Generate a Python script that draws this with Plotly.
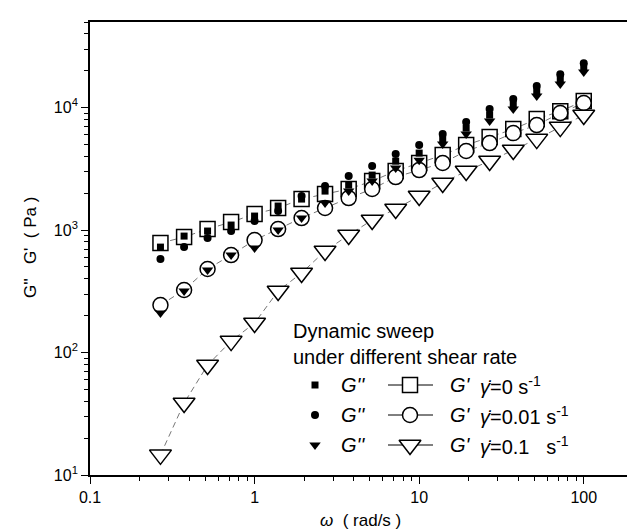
import plotly.graph_objects as go

# ---------------- data ----------------
freq = [0.268, 0.373, 0.518, 0.72, 1.0, 1.39, 1.93, 2.68, 3.73, 5.18, 7.2,
        10.0, 13.9, 19.3, 26.8, 37.3, 51.8, 72.0, 100.0]

gp_rate0 = [783, 877, 1019, 1162, 1351, 1513, 1792, 1968, 2163, 2512, 3033,
            3527, 4096, 4943, 5745, 6675, 8054, 9356, 11300]
gp_rate001 = [244, 324, 481, 625, 828, 1019, 1253, 1513, 1825, 2163, 2710,
              3090, 3527, 4420, 5130, 6190, 7200, 9020, 10900]
gp_rate01 = [14.6, 38.7, 79, 124, 174, 318, 446, 674, 910, 1208, 1484,
             1895, 2420, 3033, 3660, 4500, 5530, 6930, 8690]

gpp_rate0 = [726, 893, 982, 1099, 1301, 1571, 1791, 2081, 2330, 2812, 3657,
             4253, 5534, 6805, 8690, 10690, 13650, 17100, 21420]
gpp_rate001 = [580, 726, 861, 982, 1184, 1430, 1895, 2287, 2760, 3330, 4170,
               4943, 6080, 7620, 9720, 11730, 14990, 18760, 23070]
gpp_rate01 = [210, 318, 471, 625, 713, 1000, 1253, 1660, 2081, 2512, 3207,
              3725, 5036, 6080, 7762, 9720, 12420, 15560, 19500]

rate_labels = ["=0 s", "=0.01 s", "=0.1   s"]
y_tick_exps = [1, 2, 3, 4]

# ---------------- layout geometry ----------------
W, H = 635, 530
L, R, T, B = 82, 0, 14, 63
PW, PH = W - L - R, H - T - B
FONT = "Arial, Liberation Sans, sans-serif"


def px(x):
    return (x - L) / PW


def py(y):
    return (H - B - y) / PH


fig = go.Figure()

open_series = [
    (gp_rate0, "square", 15),
    (gp_rate001, "circle", 15),
    (gp_rate01, "triangle-down", 19),
]
filled_series = [
    (gpp_rate0, "square", 7),
    (gpp_rate001, "circle", 8),
    (gpp_rate01, "triangle-down", 10),
]

# dashed connecting lines for G'
for vals, sym, size in open_series:
    fig.add_trace(go.Scatter(x=freq, y=vals, mode="lines",
                             line=dict(color="#777777", width=1, dash="6px,4px"),
                             hoverinfo="skip", showlegend=False))
# open markers G'
for vals, sym, size in open_series:
    fig.add_trace(go.Scatter(x=freq, y=vals, mode="markers",
                             marker=dict(symbol=sym, size=size, color="white",
                                         line=dict(color="black", width=1.5)),
                             showlegend=False))
# filled markers G''
for vals, sym, size in filled_series:
    fig.add_trace(go.Scatter(x=freq, y=vals, mode="markers",
                             marker=dict(symbol=sym, size=size, color="black",
                                         line=dict(width=0)),
                             showlegend=False))

# ---------------- custom legend (overlay axes in plot fraction) ----------------
rows_y = [377, 407, 437]
for i, ry in enumerate(rows_y):
    f_sym, f_size = filled_series[i][1], filled_series[i][2]
    o_sym, o_size = open_series[i][1], open_series[i][2]
    fig.add_trace(go.Scatter(x=[px(307)], y=[py(ry)], mode="markers",
                             xaxis="x2", yaxis="y2",
                             marker=dict(symbol=f_sym, size=f_size, color="black"),
                             showlegend=False, hoverinfo="skip"))
    fig.add_trace(go.Scatter(x=[px(380), px(425)], y=[py(ry), py(ry)], mode="lines",
                             xaxis="x2", yaxis="y2",
                             line=dict(color="black", width=1),
                             showlegend=False, hoverinfo="skip"))
    fig.add_trace(go.Scatter(x=[px(402)], y=[py(ry)], mode="markers",
                             xaxis="x2", yaxis="y2",
                             marker=dict(symbol=o_sym, size=o_size, color="white",
                                         line=dict(color="black", width=1.5)),
                             showlegend=False, hoverinfo="skip"))

annotations = []
leg_font = dict(family=FONT, size=20, color="black")
annotations.append(dict(text="Dynamic sweep", x=px(283), y=py(323), xref="paper",
                        yref="paper", xanchor="left", yanchor="middle",
                        showarrow=False, font=leg_font))
annotations.append(dict(text="under different shear rate", x=px(283), y=py(349),
                        xref="paper", yref="paper", xanchor="left",
                        yanchor="middle", showarrow=False, font=leg_font))
for i, ry in enumerate(rows_y):
    annotations.append(dict(text="<i>G''</i>", x=px(331), y=py(ry), xref="paper",
                            yref="paper", xanchor="left", yanchor="middle",
                            showarrow=False, font=leg_font))
    annotations.append(dict(text="<i>G'</i>", x=px(440), y=py(ry), xref="paper",
                            yref="paper", xanchor="left", yanchor="middle",
                            showarrow=False, font=leg_font))
    annotations.append(dict(text="<i>\u03b3\u0307</i>" + rate_labels[i] + "<sup>-1</sup>",
                            x=px(470), y=py(ry), xref="paper", yref="paper",
                            xanchor="left", yanchor="middle", showarrow=False,
                            font=leg_font))

# axis titles
annotations.append(dict(text="<i>\u03c9</i>  ( rad/s )", x=px(352), y=py(512),
                        xref="paper", yref="paper", xanchor="center",
                        yanchor="middle", showarrow=False,
                        font=dict(family=FONT, size=17, color="black")))
annotations.append(dict(text="G''   G'  ( Pa )", x=px(22), y=py(240),
                        xref="paper", yref="paper", xanchor="center",
                        yanchor="middle", textangle=-90, showarrow=False,
                        font=dict(family=FONT, size=17, color="black")))

minor_x = [m * 10 ** e for e in range(-1, 3) for m in range(2, 10)]
minor_y = [m * 10 ** e for e in range(1, 5) for m in range(2, 10)]

fig.update_layout(
    width=W, height=H,
    margin=dict(l=L, r=R, t=T, b=B),
    paper_bgcolor="white", plot_bgcolor="white",
    font=dict(family=FONT, size=16, color="black"),
    annotations=annotations,
    xaxis=dict(type="log", range=[-1, 2.36], showgrid=False, zeroline=False,
               showline=True, linecolor="black", linewidth=1.8, mirror=True,
               ticks="outside", ticklen=7, tickwidth=1.3, tickcolor="black",
               tickvals=[0.1, 1, 10, 100], ticktext=["0.1", "1", "10", "100"],
               tickfont=dict(size=16),
               minor=dict(tickmode="array", tickvals=minor_x, ticks="outside",
                          ticklen=4, tickwidth=1.2, tickcolor="black",
                          showgrid=False)),
    yaxis=dict(type="log", range=[1, 4.699], showgrid=False, zeroline=False,
               showline=True, linecolor="black", linewidth=1.8, mirror=False,
               ticks="outside", ticklen=7, tickwidth=1.3, tickcolor="black",
               tickvals=[10 ** e for e in y_tick_exps],
               ticktext=["10<sup>%d</sup>" % e for e in y_tick_exps],
               tickfont=dict(size=16),
               minor=dict(tickmode="array", tickvals=minor_y, ticks="outside",
                          ticklen=4, tickwidth=1.2, tickcolor="black",
                          showgrid=False)),
    xaxis2=dict(overlaying="x", range=[0, 1], visible=False, fixedrange=True),
    yaxis2=dict(overlaying="y", range=[0, 1], visible=False, fixedrange=True),
    showlegend=False,
)

fig.write_html("out.html")
